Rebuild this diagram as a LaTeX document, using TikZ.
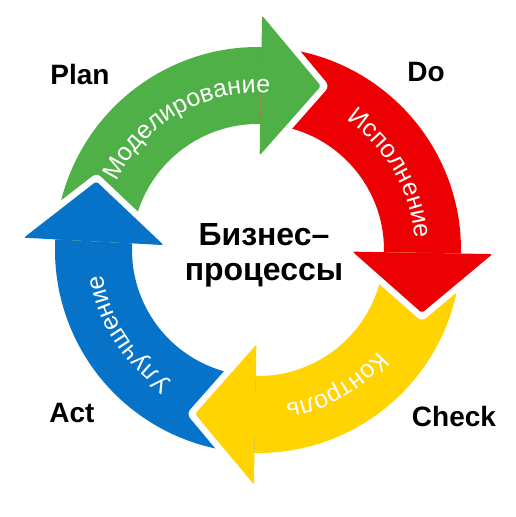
\documentclass[tikz,border=0pt]{standalone}
\usepackage{fontspec}
\setmainfont{Liberation Sans}
\usetikzlibrary{decorations.text}

\definecolor{plangreen}{RGB}{80,176,72}
\definecolor{dored}{RGB}{236,0,4}
\definecolor{checkyellow}{RGB}{255,212,0}
\definecolor{actblue}{RGB}{6,114,200}
\newcommand\capfont{\fontsize{25}{25}\selectfont}

\begin{document}
\begin{tikzpicture}[x=1pt, y=1pt,
    stage/.style={font=\fontsize{28}{28}\selectfont\bfseries},
    caption/.style={decoration={text along path, text align=center,
        text color=white, text={|\capfont|#1}}}]
  \useasboundingbox (0,0) rectangle (516,517);

  \begin{scope}[shift={(258,267)}]
    % ring segments
    \foreach \col/\ta/\ha in {actblue/269/177, plangreen/177/89, dored/89/-1, checkyellow/-1/-91}
      \fill[\col] (\ta:126) arc[start angle=\ta, end angle=\ha, radius=126]
        -- (\ha:203) arc[start angle=\ha, end angle=\ta, radius=203] -- cycle;

    % heads, with a white gap cut into the next tail
    \foreach \col/\ha in {actblue/177, plangreen/89, dored/-1, checkyellow/-91}{
      \draw[white, line width=13, line join=round] (\ha:234.5) -- (\ha-20:175.6) -- (\ha:94.5);
      \fill[\col, rounded corners=2] (\ha:234.5) -- (\ha-20:175.6) -- (\ha:94.5) -- cycle;
    }

    % texts along the ring
    \path[decorate, caption=Моделирование] (190:157) arc[start angle=190, end angle=50, radius=157];
    \path[decorate, caption=Исполнение] (100:157) arc[start angle=100, end angle=-40, radius=157];
    \path[decorate, caption=Контроль] (10:157) arc[start angle=10, end angle=-130, radius=157];
    \path[decorate, caption=Улучшение] (-77:157) arc[start angle=-77, end angle=-217, radius=157];
  \end{scope}

  \node[font=\fontsize{32}{35}\selectfont\bfseries, align=center] (core) at (264,262) {Бизнес–\\процессы};

  \node[stage] (plan) at (80,443) {Plan};
  \node[stage] (do) at (426,445) {Do};
  \node[stage] (act) at (72,104) {Act};
  \node[stage] (check) at (454,101) {Check};
\end{tikzpicture}
\end{document}
